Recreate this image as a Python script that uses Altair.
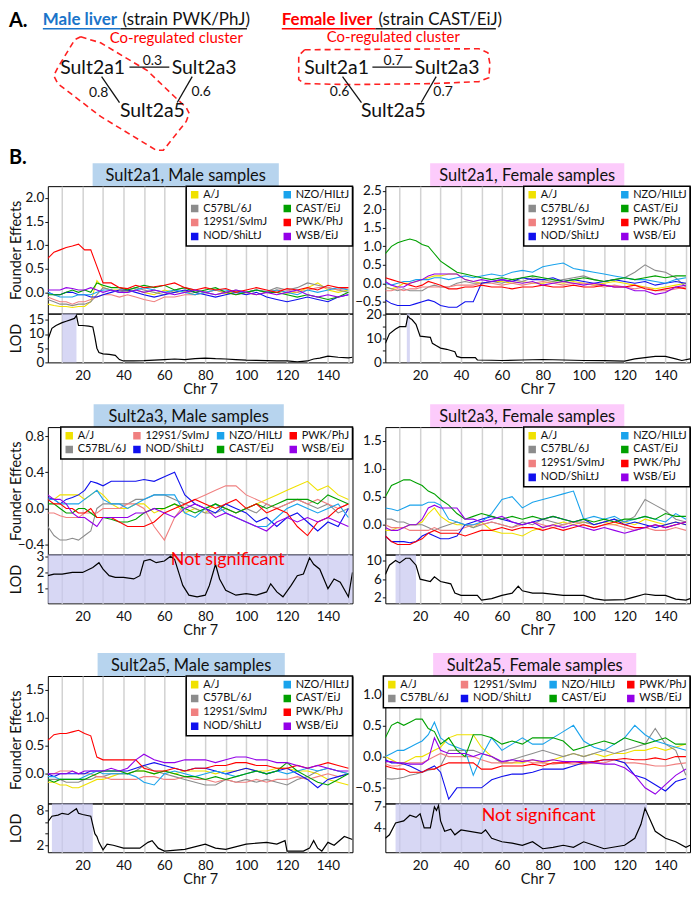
import altair as alt
import pandas as pd

FONT = "Lato"
W = 306
H_FE = 128
H_LOD = 49
H_TITLE = 23
H_PANEL_A = 152

# ---------------- data: panel B ----------------
CHR_DOMAIN = [3, 152]
GRID_X = list(range(10, 151, 10))
XF = [3, 6, 9, 12, 15, 18, 21, 24, 27, 30, 34, 38, 42, 46, 50, 55, 60, 65, 70, 75,
      80, 85, 90, 95, 100, 105, 110, 115, 120, 125, 130, 135, 140, 145, 150]

STRAINS = ["A/J", "C57BL/6J", "129S1/SvImJ", "NOD/ShiLtJ", "NZO/HILtJ", "CAST/EiJ", "PWK/PhJ", "WSB/EiJ"]
STRAIN_COLORS = ["#f0e100", "#8c8c8c", "#f08080", "#1010ee", "#1aa3ec", "#00a000", "#ff0000", "#9400e8"]

TITLES = ["Sult2a1, Male samples", "Sult2a1, Female samples",
          "Sult2a3, Male samples", "Sult2a3, Female samples",
          "Sult2a5, Male samples", "Sult2a5, Female samples"]

FE1 = {
    "PWK/PhJ": [0.72,0.85,0.9,0.95,0.98, 1.02,0.9,0.9,0.55,0.2, 0.2,0.1,0.08,0.15,0.1, 0.12,0.15,0.2,0.1,0.05, 0.1,0.05,0.08,0.0,0.05, 0.1,0.05,0.0,0.08,0.05, 0.1,0.05,0.15,0.1,0.1],
    "A/J": [-0.25,-0.28,-0.3,-0.3,-0.32, -0.3,-0.3,-0.2,0.25,0.1, 0.05,0.05,0.02,0.05,0.0, -0.05,0.05,0.0,0.03,-0.05, 0.0,0.05,-0.03,0.02,0.0, -0.05,0.0,0.05,-0.02,0.0, 0.1,0.2,0.05,0.0,0.05],
    "C57BL/6J": [-0.15,-0.2,-0.25,-0.25,-0.28, -0.25,-0.25,-0.2,-0.05,0.1, 0.05,0.0,0.05,0.1,0.05, 0.0,-0.05,0.05,0.1,0.05, 0.0,-0.05,0.0,0.05,0.0, 0.05,0.02,0.1,0.05,0.1, 0.2,0.15,0.1,0.05,0.0],
    "129S1/SvImJ": [-0.1,-0.15,-0.2,-0.2,-0.25, -0.2,-0.2,-0.15,-0.1,-0.05, -0.05,-0.1,-0.05,-0.1,-0.15, -0.2,-0.1,-0.1,-0.05,-0.05, 0.0,0.05,0.0,-0.05,0.0, 0.05,0.0,0.05,0.05,0.0, 0.05,0.1,0.1,0.05,0.1],
    "NOD/ShiLtJ": [0.0,-0.05,-0.05,0.0,0.0, -0.05,-0.05,-0.1,-0.1,-0.05, 0.0,0.05,0.05,0.0,-0.05, -0.1,-0.05,0.0,0.05,0.0, -0.05,-0.1,-0.05,0.0,-0.05, 0.0,-0.1,-0.15,-0.2,-0.15, -0.1,-0.15,-0.2,-0.1,-0.05],
    "NZO/HILtJ": [0.0,-0.05,-0.1,-0.1,-0.1, -0.05,-0.05,-0.05,0.0,0.05, 0.05,0.0,0.0,0.05,0.1, 0.05,0.0,0.05,0.0,-0.05, 0.0,0.05,0.05,0.0,0.0, 0.05,0.0,0.05,0.0,-0.05, 0.05,0.0,0.05,0.1,0.05],
    "CAST/EiJ": [-0.05,-0.05,-0.05,0.0,0.05, 0.0,0.05,0.0,0.2,0.15, 0.1,0.1,0.05,0.1,0.15, 0.1,0.15,0.05,0.1,0.0, 0.05,0.1,0.0,-0.05,0.0, 0.05,0.0,0.0,-0.05,-0.1, -0.05,-0.1,-0.15,-0.1,0.0],
    "WSB/EiJ": [0.05,0.05,0.05,0.1,0.08, 0.05,0.05,0.1,0.05,0.0, 0.05,0.0,0.0,0.05,0.0, 0.05,0.0,-0.05,0.0,0.05, 0.0,-0.05,0.0,0.05,0.0, -0.05,0.0,-0.05,0.0,0.05, -0.05,-0.1,-0.05,-0.1,-0.05],
}
FE2 = {
    "CAST/EiJ": [0.8,1.0,1.1,1.15,1.2, 1.15,1.05,1.0,0.8,0.6, 0.45,0.3,0.25,0.2,0.15, 0.1,0.15,0.1,0.15,0.2, 0.15,0.1,0.05,0.1,0.15, 0.1,0.05,0.1,0.15,0.1, 0.15,0.2,0.15,0.2,0.2],
    "NOD/ShiLtJ": [-0.45,-0.55,-0.6,-0.6,-0.6, -0.55,-0.5,-0.45,-0.5,-0.6, -0.65,-0.65,-0.5,-0.5,0.0, 0.05,0.1,0.05,0.15,0.1, 0.1,0.15,0.05,0.1,0.05, 0.0,0.05,0.1,0.05,0.0, 0.05,-0.05,0.0,0.05,0.0],
    "PWK/PhJ": [0.15,0.1,0.05,0.0,-0.05, -0.1,-0.05,0.05,0.0,-0.05, -0.15,-0.15,-0.1,-0.1,-0.05, -0.1,-0.1,-0.15,-0.1,-0.1, -0.05,-0.1,-0.1,-0.05,-0.1, -0.1,-0.05,-0.1,-0.1,-0.05, -0.15,-0.2,-0.15,-0.1,-0.15],
    "NZO/HILtJ": [0.0,-0.05,0.0,0.05,0.05, 0.1,0.1,0.1,0.15,0.15, 0.1,0.15,0.2,0.15,0.2, 0.25,0.2,0.3,0.35,0.3, 0.45,0.5,0.55,0.4,0.35, 0.3,0.25,0.2,0.15,0.1, 0.1,0.05,0.0,0.1,0.15],
    "C57BL/6J": [-0.1,-0.15,-0.2,-0.15,-0.2, -0.2,-0.2,-0.1,-0.05,-0.1, -0.1,0.0,0.05,0.0,0.0, 0.05,0.0,0.1,0.05,0.15, 0.1,0.05,0.1,0.15,0.2, 0.1,0.05,0.1,0.15,0.3, 0.5,0.35,0.3,0.15,-0.1],
    "WSB/EiJ": [0.05,-0.05,-0.1,-0.1,0.0, 0.05,0.1,0.2,0.25,0.25, 0.25,0.25,0.1,0.05,0.1, 0.05,0.1,0.05,0.0,0.05, -0.05,0.0,0.05,0.0,-0.05, 0.0,-0.05,-0.1,-0.1,-0.2, -0.2,-0.3,-0.25,-0.1,-0.05],
    "A/J": [-0.1,-0.15,-0.1,0.0,0.0, 0.05,0.1,0.15,0.2,0.2, 0.25,0.25,0.1,0.05,0.0, 0.05,0.05,0.0,0.05,0.0, 0.0,0.05,0.0,0.05,0.0, -0.05,0.0,0.05,0.0,-0.05, -0.1,-0.15,-0.1,-0.05,0.0],
    "129S1/SvImJ": [-0.2,-0.2,-0.15,-0.2,-0.15, -0.15,-0.1,-0.1,-0.1,-0.1, -0.1,-0.05,-0.05,-0.05,0.0, 0.0,-0.05,0.0,-0.05,0.0, 0.05,0.0,-0.05,0.0,0.0, -0.05,-0.1,-0.05,-0.1,-0.15, -0.1,-0.2,-0.2,-0.15,-0.1],
}
FE3 = {
    "NOD/ShiLtJ": [0.12,0.1,0.05,0.1,0.12, 0.15,0.2,0.3,0.28,0.25, 0.3,0.3,0.3,0.3,0.32, 0.3,0.35,0.4,0.15,0.05, 0.0,-0.05,0.05,0.0,-0.05, -0.15,-0.1,-0.2,-0.1,-0.05, -0.15,-0.25,-0.15,-0.2,0.0],
    "C57BL/6J": [-0.2,-0.3,-0.35,-0.35,-0.33, -0.35,-0.3,-0.25,0.0,0.05, 0.05,0.05,0.05,0.1,0.1, 0.15,0.15,0.1,0.05,0.0, -0.05,-0.05,0.0,-0.05,0.0, -0.05,0.05,0.0,0.05,0.1, 0.05,0.0,0.05,-0.05,0.0],
    "129S1/SvImJ": [-0.05,-0.05,-0.08,-0.1,-0.1, -0.1,-0.05,-0.05,-0.05,0.0, 0.0,0.0,0.05,0.05,0.0, -0.2,-0.35,-0.1,0.05,0.1, 0.15,0.2,0.25,0.25,0.15, 0.1,0.05,0.0,0.05,0.1, 0.05,0.1,0.05,0.0,0.05],
    "A/J": [0.1,0.1,0.15,0.15,0.15, 0.15,0.1,0.15,0.2,0.15, 0.05,0.0,0.0,0.05,0.05, -0.05,0.0,0.05,-0.05,0.0, -0.05,0.05,0.0,-0.05,0.0, 0.05,0.1,0.15,0.2,0.25, 0.3,0.2,0.25,0.15,0.1],
    "PWK/PhJ": [0.1,0.05,0.05,0.0,0.0, -0.05,-0.05,0.0,-0.1,-0.1, -0.1,-0.15,-0.2,-0.2,-0.2, -0.15,-0.05,0.0,0.05,0.1, 0.05,0.0,0.05,0.1,0.0, 0.05,-0.05,0.0,-0.05,-0.2, -0.3,-0.15,-0.1,0.0,0.05],
    "WSB/EiJ": [0.15,0.1,0.1,0.05,-0.05, -0.1,-0.1,-0.15,-0.2,-0.1, -0.1,-0.1,-0.1,-0.05,-0.05, 0.0,-0.05,-0.1,0.0,0.05, 0.0,-0.1,-0.05,-0.1,-0.15, -0.2,-0.25,-0.15,-0.1,-0.15, -0.1,-0.15,-0.1,-0.15,-0.2],
    "CAST/EiJ": [0.05,0.05,0.0,-0.05,-0.05, 0.0,0.0,-0.05,-0.1,-0.1, -0.12,-0.15,-0.15,-0.12,-0.05, 0.0,0.0,0.05,0.0,-0.05, 0.0,0.05,0.0,-0.05,0.0, 0.05,0.0,0.05,0.1,0.1, 0.1,0.05,0.15,0.1,0.05],
    "NZO/HILtJ": [0.1,0.1,0.05,0.05,0.05, 0.05,0.1,0.15,0.2,0.1, 0.05,0.05,0.0,0.05,0.1, 0.15,0.15,0.15,-0.05,-0.1, 0.0,0.05,-0.05,-0.1,-0.15, -0.2,-0.2,-0.1,0.0,0.05, 0.0,-0.05,0.0,0.05,-0.1],
}
FE4 = {
    "CAST/EiJ": [0.5,0.7,0.75,0.8,0.8, 0.75,0.7,0.6,0.55,0.45, 0.35,0.2,0.1,0.15,0.2, 0.15,0.1,0.15,0.1,0.15, 0.1,0.15,0.1,0.05,0.1, 0.05,0.1,0.05,0.1,0.1, 0.15,0.1,0.2,0.15,0.15],
    "NZO/HILtJ": [0.3,0.28,0.25,0.3,0.35, 0.35,0.35,0.4,0.4,0.35, 0.1,0.05,0.0,0.0,0.05, 0.2,0.45,0.5,0.3,0.4, 0.45,0.5,0.55,0.6,0.1, 0.15,0.1,0.15,0.05,0.1, 0.15,0.1,0.05,0.2,0.1],
    "C57BL/6J": [0.1,0.1,0.05,0.05,0.0, 0.0,0.0,-0.05,-0.1,-0.05, 0.0,0.05,0.0,-0.05,0.0, 0.05,0.0,-0.05,0.05,0.0, 0.1,0.05,0.0,0.05,0.05, 0.0,0.05,0.1,0.05,0.15, 0.45,0.35,0.25,0.1,0.05],
    "NOD/ShiLtJ": [-0.2,-0.3,-0.3,-0.3,-0.32, -0.3,-0.2,-0.15,-0.2,-0.25, -0.25,-0.2,0.0,0.05,0.1, 0.15,0.1,0.05,0.0,0.05, 0.1,0.15,0.1,0.05,0.1, 0.0,0.05,0.1,0.0,0.05, 0.0,-0.05,0.0,0.05,0.0],
    "PWK/PhJ": [-0.2,-0.3,-0.35,-0.35,-0.35, -0.3,-0.25,-0.15,-0.1,-0.15, -0.15,-0.15,-0.2,-0.15,-0.1, -0.1,-0.05,-0.1,-0.05,-0.05, -0.1,-0.05,-0.1,-0.05,0.0, -0.05,0.0,0.05,0.0,-0.05, -0.05,0.0,-0.05,0.0,0.05],
    "WSB/EiJ": [-0.05,-0.1,-0.1,-0.05,0.0, 0.0,0.1,0.3,0.35,0.3, 0.3,0.3,0.1,0.1,0.05, 0.1,0.15,0.05,0.0,0.05, -0.05,0.0,-0.05,0.0,-0.05, -0.1,-0.05,-0.1,-0.15,-0.1, -0.05,0.0,-0.05,0.0,0.05],
    "A/J": [-0.1,-0.1,-0.05,-0.05,0.0, 0.0,0.05,0.2,0.3,0.15, 0.05,0.0,0.0,-0.05,0.05, -0.1,-0.15,-0.15,-0.2,-0.1, -0.05,0.0,0.05,0.0,0.05, 0.0,0.05,0.0,0.05,0.0, 0.1,0.05,0.0,0.05,0.0],
    "129S1/SvImJ": [0.0,-0.05,-0.05,-0.05,-0.1, -0.1,-0.1,-0.1,-0.05,-0.1, -0.1,-0.1,-0.05,0.0,0.0, 0.05,0.0,-0.05,0.0,0.05, 0.0,-0.05,0.0,0.05,0.0, -0.05,0.0,0.0,-0.05,-0.1, -0.05,-0.1,-0.1,-0.05,-0.1],
}
FE5 = {
    "PWK/PhJ": [0.6,0.7,0.72,0.72,0.75, 0.78,0.72,0.68,0.3,0.25, 0.25,0.25,0.25,0.25,0.1, 0.05,0.05,0.1,0.05,0.1, 0.1,0.15,0.15,0.2,0.2, 0.15,0.15,0.1,0.1,0.15, 0.1,0.15,0.2,0.15,0.1],
    "129S1/SvImJ": [0.0,0.0,0.05,0.05,0.05, 0.0,0.0,0.0,-0.05,-0.05, -0.1,-0.1,-0.1,-0.1,-0.05, -0.05,-0.1,-0.1,-0.05,-0.1, -0.1,-0.15,-0.1,-0.15,-0.15, -0.1,-0.15,-0.1,-0.1,-0.05, -0.1,-0.05,0.0,-0.05,0.0],
    "C57BL/6J": [-0.1,-0.1,-0.1,-0.15,-0.15, -0.15,-0.1,-0.1,-0.05,-0.05, 0.0,0.0,0.0,0.05,0.15, 0.05,0.0,-0.05,-0.1,-0.15, -0.2,-0.2,-0.1,-0.15,-0.1, -0.15,-0.1,-0.15,-0.2,-0.1, -0.05,0.05,0.1,0.05,0.0],
    "A/J": [-0.15,-0.15,-0.2,-0.2,-0.25, -0.25,-0.2,-0.15,-0.1,-0.1, -0.05,0.0,0.0,0.05,0.05, 0.0,0.05,0.0,0.05,0.05, 0.05,0.0,0.05,0.05,0.1, 0.05,0.05,0.1,0.1,0.05, 0.05,0.0,-0.1,-0.15,-0.2],
    "NOD/ShiLtJ": [0.0,-0.05,0.0,0.0,0.0, 0.0,0.0,0.05,0.05,0.05, 0.05,0.05,0.05,0.1,0.15, 0.2,0.15,0.1,0.05,0.1, 0.1,0.05,0.0,0.05,0.1, 0.05,0.0,0.05,0.1,0.0, -0.1,-0.25,-0.1,-0.05,0.0],
    "NZO/HILtJ": [-0.05,-0.05,-0.1,-0.1,-0.1, -0.1,-0.05,0.0,0.05,0.0, 0.0,0.0,0.0,-0.05,-0.15, -0.2,0.0,0.05,0.0,-0.05, 0.0,0.05,0.0,-0.05,0.0, 0.05,0.0,0.05,0.0,0.05, 0.1,0.05,0.1,0.05,0.0],
    "CAST/EiJ": [-0.1,-0.15,-0.1,-0.1,-0.1, -0.1,-0.1,-0.05,0.0,0.05, 0.05,0.05,0.0,0.05,0.05, 0.0,0.05,0.0,-0.05,-0.05, -0.1,-0.05,-0.1,-0.05,0.0, 0.05,0.0,0.05,0.2,0.05, -0.05,-0.15,-0.2,-0.1,0.0],
    "WSB/EiJ": [0.0,0.0,0.0,0.0,0.05, 0.0,0.05,0.05,0.05,0.05, 0.1,0.05,0.1,0.25,0.35, 0.25,0.2,0.2,0.25,0.25, 0.25,0.2,0.25,0.3,0.3, 0.25,0.25,0.2,0.2,0.15, 0.1,0.15,0.1,0.05,0.05],
}
FE6 = {
    "CAST/EiJ": [0.3,0.5,0.55,0.5,0.55, 0.6,0.6,0.45,0.4,0.2, 0.3,0.1,0.0,0.35,0.35, 0.3,0.2,0.25,0.2,0.3, 0.3,0.3,0.25,0.1,0.15, 0.2,0.25,0.2,0.3,0.25, 0.2,0.25,0.3,0.2,0.2],
    "NZO/HILtJ": [0.0,0.05,0.1,0.1,0.15, 0.2,0.25,0.35,0.55,0.3, 0.2,0.15,0.1,-0.3,0.0, 0.3,0.1,0.2,0.3,0.2, 0.2,0.3,0.4,0.5,0.25, 0.15,0.1,0.2,0.3,0.5, 0.35,0.25,0.2,0.15,0.1],
    "A/J": [0.0,-0.05,-0.1,-0.1,-0.05, 0.0,0.0,0.05,0.1,0.15, 0.3,0.35,0.35,0.35,0.15, 0.0,-0.1,-0.1,-0.1,-0.05, -0.1,-0.05,0.0,0.05,0.0, 0.05,0.0,0.05,0.05,0.1, 0.1,0.15,0.1,0.15,0.2],
    "C57BL/6J": [-0.35,-0.36,-0.35,-0.33,-0.3, -0.28,-0.25,-0.22,-0.2,-0.15, 0.1,0.1,0.1,0.1,0.05, 0.0,-0.1,-0.05,0.0,0.05, 0.1,0.05,0.0,0.05,0.0, 0.05,0.1,0.05,0.1,0.15, 0.2,0.45,0.2,0.1,-0.3],
    "NOD/ShiLtJ": [-0.05,-0.1,-0.1,-0.12,-0.15, -0.2,-0.25,-0.2,-0.15,-0.25, -0.68,-0.5,-0.5,-0.5,-0.5, -0.37,-0.32,-0.28,-0.28,-0.25, -0.2,-0.2,-0.2,-0.15,-0.1, -0.08,-0.05,-0.05,-0.1,-0.3, -0.35,-0.45,-0.55,-0.4,-0.35],
    "PWK/PhJ": [-0.15,-0.18,-0.2,-0.2,-0.25, -0.25,-0.25,-0.2,-0.2,-0.15, -0.1,-0.1,-0.1,-0.1,-0.2, -0.2,-0.15,-0.15,-0.15,-0.12, -0.15,-0.1,-0.1,-0.08,-0.1, -0.08,-0.05,-0.05,-0.03,-0.05, -0.05,-0.02,-0.05,0.0,0.0],
    "WSB/EiJ": [-0.08,-0.08,-0.1,-0.1,-0.12, -0.12,-0.12,-0.05,0.3,0.1, 0.05,0.05,0.05,0.0,0.05, 0.0,-0.08,-0.05,-0.08,-0.05, -0.08,-0.05,-0.08,-0.08,-0.08, -0.1,-0.12,-0.12,-0.18,-0.3, -0.5,-0.6,-0.45,-0.3,-0.2],
    "129S1/SvImJ": [-0.12,-0.15,-0.15,-0.12,-0.1, -0.1,-0.1,-0.05,0.0,0.05, 0.0,0.0,0.0,0.0,-0.05, -0.1,-0.1,-0.1,-0.05,-0.1, -0.1,-0.12,-0.1,-0.12,-0.12, -0.1,-0.1,-0.05,-0.1,-0.1, -0.12,-0.15,-0.15,-0.12,-0.1],
}
FE = [FE1, FE2, FE3, FE4, FE5, FE6]

LOD1_X = [3,5,7,10,12,14,16,17,18,20,23,25,26,27,28,30,33,36,38,40,45,50,55,60,65,70,75,80,85,90,95,100,105,110,115,120,125,130,133,136,140,145,150,152]
LOD1_Y = [8,12,13,14,14.5,15,15.5,16.5,13,13,12.8,12.5,9,5,3.5,3,2.8,2.5,1,0.5,0.5,0.6,0.8,1.0,1.2,1.0,1.3,1.5,1.3,1.2,1.0,0.8,0.7,0.6,0.5,0.5,0.2,0.5,1.2,1.5,2.2,1.8,1.6,1.8]
LOD2_X = [3,5,8,10,13,14,15,16,18,20,22,25,26,28,30,33,35,37,38,40,47,48,55,60,70,80,90,100,110,120,125,130,135,140,145,148,152]
LOD2_Y = [8,12,14,15,15,19.5,18.5,18,16,11,10.8,10.5,8,7,6,5.5,5,4.5,2.5,2,2,1,0.9,0.8,1.0,1.2,1.0,0.8,0.7,0.5,1.5,2.0,2.5,2.5,1.5,0.8,1.5]
LOD3_X = [3,6,10,15,20,25,28,30,33,36,40,45,48,50,53,56,60,63,65,67,69,72,76,80,82,85,87,90,95,100,105,110,112,115,118,122,125,128,131,133,136,140,143,146,150,152]
LOD3_Y = [1.8,1.9,1.9,2.0,2.0,2.3,2.6,2.2,1.8,1.7,1.7,1.6,1.8,2.7,2.8,2.6,2.7,3.0,2.8,2.0,1.2,0.6,0.5,0.6,1.2,2.5,1.6,0.9,0.6,0.7,0.6,0.8,1.3,0.8,0.5,1.2,1.8,1.9,2.9,2.5,2.2,1.0,1.6,1.4,0.5,2.0]
LOD4_X = [3,5,8,10,13,15,18,20,22,25,27,30,33,35,37,40,48,50,55,60,65,68,70,75,80,90,100,105,110,120,125,130,135,140,145,150,152]
LOD4_Y = [7,9,10,9.5,10.5,10.5,9,6,5.8,5.5,6.5,5.5,5.2,5,3,2.5,2.5,1.5,1.8,2.5,3,4.5,3.5,3,3,2.5,2.5,1.8,1.5,1.6,2.2,2.8,2.5,2.5,1.7,1.5,1.8]
LOD5_X = [3,5,8,10,13,15,17,18,20,24,26,27,28,30,32,35,40,48,52,54,57,60,70,80,85,90,100,110,115,119,120,128,131,133,135,137,140,143,148,152]
LOD5_Y = [6,7,7.2,7.5,7.3,7.8,8.3,7.5,7.3,7.0,4,3.5,2.5,1.2,2.2,2.0,1.5,1.5,2.5,2.8,1.5,1.0,1.3,2.2,1.5,1.3,2.2,2.5,2.2,2.8,1.0,1.0,1.5,2.8,1.5,1.0,2.5,2.0,3.5,3.0]
LOD6_X = [3,5,8,12,15,18,20,22,25,27,28,29,30,32,35,37,40,50,52,55,60,65,70,75,80,85,90,95,100,105,110,120,125,128,130,132,135,140,145,150,152]
LOD6_Y = [2.5,3,4.7,5,5.8,5.5,6.0,4.0,4.0,7,6.5,7.2,5.0,3.5,3.8,3.0,3.7,3.2,3.7,2.5,2.0,1.8,1.5,2.0,1.0,1.2,1.5,1.2,2.0,1.5,1.0,1.5,2.5,4.5,6.8,5.5,3.5,2.5,2.0,1.2,1.5]
LOD_X = [LOD1_X, LOD2_X, LOD3_X, LOD4_X, LOD5_X, LOD6_X]
LOD_Y = [LOD1_Y, LOD2_Y, LOD3_Y, LOD4_Y, LOD5_Y, LOD6_Y]

SHADE_START = [10, 13.5, 3, 8, 5, 8]
SHADE_END = [17, 15, 152, 18, 25, 131]
NOTE_PANEL = [2, 5]
NOTE_TEXT = ["Not significant", "Not significant"]
NOTE_X = [91, 78]
NOTE_Y = [2.78, 5.7]

FE_DOMAIN = [(-0.45, 2.25), (-0.82, 2.63), (-0.51, 0.9), (-0.53, 1.74), (-0.53, 1.75), (-0.75, 1.29)]
FE_TICKS = [[0, 0.5, 1, 1.5, 2], [-0.5, 0, 0.5, 1, 1.5, 2, 2.5], [-0.4, 0, 0.4, 0.8],
            [0, 0.5, 1, 1.5], [0, 0.5, 1, 1.5], [-0.5, 0, 0.5, 1]]
LOD_DOMAIN = [(0, 17.2), (0, 20.5), (0.1, 3.1), (0.8, 11.3), (0.8, 9.2), (0.5, 7.5)]
LOD_TICKS = [[0, 5, 10, 15], [0, 5, 10, 15, 20], [1, 2, 3], [2, 6, 10], [2, 4, 6, 8], [4, 7]]

# ---------------- data: panel A (page coordinates) ----------------
NET_SIDE = ["m", "m", "m", "f", "f", "f"]
NODE_NAMES = ["Sult2a1", "Sult2a3", "Sult2a5", "Sult2a1", "Sult2a3", "Sult2a5"]
NODE_X = [92, 204, 152, 337, 448, 394]
NODE_Y = [64, 64, 108, 64, 64, 108]
EDGE_X1 = [129, 101, 192, 373, 343, 437]
EDGE_Y1 = [63.5, 73, 73, 63.5, 73, 73]
EDGE_X2 = [169, 119, 177, 413, 362, 422]
EDGE_Y2 = [63.5, 99, 99, 63.5, 99, 99]
EDGE_LABELS = ["0.3", "0.8", "0.6", "0.7", "0.6", "0.7"]
EDGE_LX = [152, 98, 201, 394, 340, 444]
EDGE_LY = [57, 89, 88, 57, 88, 88]
CLUSTER_M_X = [80, 100, 147, 173, 186, 189, 186, 163, 156, 100, 57, 53, 57, 74, 80]
CLUSTER_M_Y = [33, 39, 67, 92, 104, 110, 118, 147, 147, 113, 80, 72, 64, 36, 33]
CLUSTER_F_X = [305, 480, 489, 491, 490, 480, 433, 350, 305, 299, 299, 305]
CLUSTER_F_Y = [46, 45, 49, 60, 74, 78, 80, 81, 80, 76, 52, 46]
CLUSTER_LABEL = ["Co-regulated cluster", "Co-regulated cluster"]
CLUSTER_SIDE = ["m", "f"]
CLUSTER_LX = [176, 394]
CLUSTER_LY = [34, 33]
HEAD_BOLD = ["A.", "B.", "Male liver", "Female liver"]
HEAD_BOLD_SIDE = ["m", "m", "m", "f"]
HEAD_BOLD_X = [8, 8, 42, 282]
HEAD_BOLD_Y = [17, 155, 16, 16]
HEAD_BOLD_SIZE = [20, 20, 17, 17]
HEAD_BOLD_COLOR = ["#000000", "#000000", "#1a74c9", "#ff0000"]
HEAD_NORMAL = ["(strain PWK/PhJ)", "(strain CAST/EiJ)"]
HEAD_NORMAL_SIDE = ["m", "f"]
HEAD_NORMAL_X = [122, 379]
HEAD_NORMAL_Y = [16, 16]
UL_SIDE = ["m", "m", "f", "f"]
UL_X1 = [42, 120, 282, 376]
UL_X2 = [120, 247, 376, 497]
UL_Y = [25, 25, 25, 25]
UL_COLOR = ["#1a74c9", "#222222", "#ff0000", "#222222"]

# ---------------- styles ----------------
PLOT_LEFT = [47, 386]           # page x of left / right plot columns
LEG_COLS = [2, 2, 4, 2, 2, 4]
LEG_COLPAD = [12, 12, 3, 12, 12, 8]
TITLE_BOX = [(45, 232), (45, 240), (46, 237), (45, 240), (50, 238), (48, 252)]
TITLE_GAP = [0, 0, 42, 42, 50, 50]
TITLE_FILL = ["#b7d4ee", "#fccbfb"] * 3
SYMBOL_PATH = "M-1,-0.8H1M-1,-0.4H1M-1,0H1M-1,0.4H1M-1,0.8H1"
FRAME = alt.ViewBackground(stroke="black", strokeWidth=1)
NOFRAME = alt.ViewBackground(stroke="transparent")


def xscale():
    return alt.Scale(domain=CHR_DOMAIN, nice=False, zero=False)


def yaxis_for(left, title, values, fmt):
    kw = dict(values=values, format=fmt, grid=False, domain=False, tickSize=3, labelPadding=1)
    if left:
        return alt.Axis(title=title, titleX=-24, **kw)
    return alt.Axis(title=None, **kw)


def founder_chart(i):
    left = i % 2 == 0
    rows = []
    for s in STRAINS:
        for x, v in zip(XF, FE[i][s]):
            rows.append({"chr": x, "effect": v, "strain": s})
    df = pd.DataFrame(rows)
    legend = alt.Legend(title=None, orient="top-right", offset=0, columns=LEG_COLS[i],
                        columnPadding=LEG_COLPAD[i], symbolType=SYMBOL_PATH, symbolSize=56,
                        symbolStrokeWidth=1.6, symbolOpacity=1, labelFont=FONT,
                        labelFontSize=11, labelColor="#111111", rowPadding=1, padding=3,
                        labelOffset=3, strokeColor="black", fillColor="white")
    lines = alt.Chart(df).mark_line(strokeWidth=1.1, clip=True).encode(
        x=alt.X("chr:Q", scale=xscale(),
                axis=alt.Axis(values=GRID_X, labels=False, ticks=False, domain=False,
                              grid=True, title=None)),
        y=alt.Y("effect:Q", scale=alt.Scale(domain=list(FE_DOMAIN[i]), nice=False, zero=False),
                axis=yaxis_for(left, "Founder Effects", FE_TICKS[i], ".1f")),
        color=alt.Color("strain:N", scale=alt.Scale(domain=STRAINS, range=STRAIN_COLORS),
                        legend=legend),
    )
    return alt.layer(lines).properties(width=W, height=H_FE, view=FRAME)


def lod_chart(i):
    left = i % 2 == 0
    df = pd.DataFrame(list(zip(LOD_X[i], LOD_Y[i])), columns=["chr", "lod"])
    shade = pd.DataFrame({"x0": [SHADE_START[i]], "x1": [SHADE_END[i]]})
    xaxis = alt.Axis(values=GRID_X, labelExpr="datum.value % 20 == 0 ? datum.label : ''",
                     ticks=False, tickSize=0, domain=False, grid=True, title="Chr 7",
                     labelPadding=6, titlePadding=1, labelFontSize=13.5)
    yaxis = yaxis_for(left, "LOD", LOD_TICKS[i], "d")
    yscale = alt.Scale(domain=list(LOD_DOMAIN[i]), nice=False, zero=False)
    rect = alt.Chart(shade).mark_rect(color="#c6c6f0", opacity=0.7).encode(
        x=alt.X("x0:Q", scale=xscale(), axis=xaxis), x2="x1:Q",
        y=alt.value(0), y2=alt.value(H_LOD))
    line = alt.Chart(df).mark_line(color="black", strokeWidth=1.2, clip=True).encode(
        x=alt.X("chr:Q", scale=xscale(), axis=xaxis),
        y=alt.Y("lod:Q", scale=yscale, axis=yaxis))
    layers = [rect, line]
    if i in NOTE_PANEL:
        k = NOTE_PANEL.index(i)
        ndf = pd.DataFrame({"t": [NOTE_TEXT[k]], "x": [NOTE_X[k]], "y": [NOTE_Y[k]]})
        layers.append(alt.Chart(ndf).mark_text(color="#ff0000", font=FONT, fontSize=18,
                                               baseline="middle").encode(
            x=alt.X("x:Q", scale=xscale(), axis=xaxis),
            y=alt.Y("y:Q", scale=yscale, axis=yaxis), text="t:N"))
    return alt.layer(*layers).properties(width=W, height=H_LOD, view=FRAME)


def title_chart(i):
    df = pd.DataFrame({"t": [TITLES[i]]})
    x0, x1 = TITLE_BOX[i]
    g = TITLE_GAP[i]
    box = alt.Chart(df).mark_rect(color=TITLE_FILL[i]).encode(
        x=alt.value(x0), x2=alt.value(x1), y=alt.value(g), y2=alt.value(g + H_TITLE))
    txt = alt.Chart(df).mark_text(font=FONT, fontSize=16.5, color="#111111",
                                  baseline="middle").encode(
        x=alt.value((x0 + x1) / 2), y=alt.value(g + H_TITLE / 2 + 1), text="t:N")
    return alt.layer(box, txt).properties(width=W, height=g + H_TITLE, view=NOFRAME)


# ---------------- panel A (two cells, page coordinates) ----------------
def net_cell(side):
    col = 0 if side == "m" else 1
    xs = alt.Scale(domain=[PLOT_LEFT[col], PLOT_LEFT[col] + W], nice=False, zero=False)
    ys = alt.Scale(domain=[8, 8 + H_PANEL_A], nice=False, zero=False, reverse=True)

    def ax(f):
        return alt.X(f, type="quantitative", scale=xs, axis=None)

    def ay(f):
        return alt.Y(f, type="quantitative", scale=ys, axis=None)

    cx, cy = (CLUSTER_M_X, CLUSTER_M_Y) if side == "m" else (CLUSTER_F_X, CLUSTER_F_Y)
    clu = pd.DataFrame({"x": cx, "y": cy, "o": list(range(len(cx)))})
    clusters = alt.Chart(clu).mark_line(color="#ff2020", strokeDash=[6, 4], strokeWidth=1.6).encode(
        x=ax("x"), y=ay("y"), order="o:Q")

    idx = [k for k, s in enumerate(NET_SIDE) if s == side]
    edf = pd.DataFrame({"x": [EDGE_X1[k] for k in idx], "y": [EDGE_Y1[k] for k in idx],
                        "x2": [EDGE_X2[k] for k in idx], "y2": [EDGE_Y2[k] for k in idx],
                        "t": [EDGE_LABELS[k] for k in idx], "lx": [EDGE_LX[k] for k in idx],
                        "ly": [EDGE_LY[k] for k in idx]})
    edges = alt.Chart(edf).mark_rule(color="#111111", strokeWidth=1.3).encode(
        x=ax("x"), y=ay("y"), x2="x2:Q", y2="y2:Q")
    elabels = alt.Chart(edf).mark_text(font=FONT, fontSize=14, color="#111111",
                                       baseline="middle").encode(x=ax("lx"), y=ay("ly"), text="t:N")
    ndf = pd.DataFrame({"t": [NODE_NAMES[k] for k in idx], "x": [NODE_X[k] for k in idx],
                        "y": [NODE_Y[k] for k in idx]})
    nodes = alt.Chart(ndf).mark_text(font=FONT, fontSize=19.5, color="#111111",
                                     baseline="middle").encode(x=ax("x"), y=ay("y"), text="t:N")

    ci = [k for k, s in enumerate(CLUSTER_SIDE) if s == side]
    cdf = pd.DataFrame({"t": [CLUSTER_LABEL[k] for k in ci], "x": [CLUSTER_LX[k] for k in ci],
                        "y": [CLUSTER_LY[k] for k in ci]})
    clabels = alt.Chart(cdf).mark_text(font=FONT, fontSize=15, color="#ff0000",
                                       baseline="middle").encode(x=ax("x"), y=ay("y"), text="t:N")

    ui = [k for k, s in enumerate(UL_SIDE) if s == side]
    udf = pd.DataFrame({"x": [UL_X1[k] for k in ui], "x2": [UL_X2[k] for k in ui],
                        "y": [UL_Y[k] for k in ui], "c": [UL_COLOR[k] for k in ui]})
    underl = alt.Chart(udf).mark_rule(strokeWidth=1.5).encode(
        x=ax("x"), x2="x2:Q", y=ay("y"), color=alt.Color("c:N", scale=None))

    bi = [k for k, s in enumerate(HEAD_BOLD_SIDE) if s == side]
    bdf = pd.DataFrame({"t": [HEAD_BOLD[k] for k in bi], "x": [HEAD_BOLD_X[k] for k in bi],
                        "y": [HEAD_BOLD_Y[k] for k in bi], "s": [HEAD_BOLD_SIZE[k] for k in bi],
                        "c": [HEAD_BOLD_COLOR[k] for k in bi]})
    hbold = alt.Chart(bdf).mark_text(font=FONT, fontWeight="bold", align="left",
                                     baseline="middle").encode(
        x=ax("x"), y=ay("y"), text="t:N", size=alt.Size("s:Q", scale=None),
        color=alt.Color("c:N", scale=None))

    hi = [k for k, s in enumerate(HEAD_NORMAL_SIDE) if s == side]
    hdf = pd.DataFrame({"t": [HEAD_NORMAL[k] for k in hi], "x": [HEAD_NORMAL_X[k] for k in hi],
                        "y": [HEAD_NORMAL_Y[k] for k in hi]})
    hnorm = alt.Chart(hdf).mark_text(font=FONT, fontSize=17, color="#111111", align="left",
                                     baseline="middle").encode(x=ax("x"), y=ay("y"), text="t:N")

    return alt.layer(clusters, edges, underl, nodes, elabels, clabels, hbold, hnorm).properties(
        width=W, height=H_PANEL_A, view=NOFRAME)


# ---------------- assemble as a 2-column grid of leaf views ----------------
cells = [net_cell("m"), net_cell("f")]
for r in range(3):
    i, j = 2 * r, 2 * r + 1
    cells += [title_chart(i), title_chart(j),
              founder_chart(i), founder_chart(j),
              lod_chart(i), lod_chart(j)]

chart = alt.concat(*cells, columns=2, spacing={"row": 0, "column": 33}, bounds="flush").resolve_scale(
    color="independent").properties(padding=0).configure(font=FONT).configure_view(
    stroke="transparent").configure_axis(
    labelFont=FONT, titleFont=FONT, labelFontSize=13.5, titleFontSize=14.5,
    titleFontWeight="normal", labelColor="#111111", titleColor="#111111",
    tickColor="#111111", gridColor="#d2d2d2", gridWidth=1.5).configure_legend(
    strokeWidth=1.5)

chart.save("out.html", embed_options={"renderer": "svg", "actions": False})
